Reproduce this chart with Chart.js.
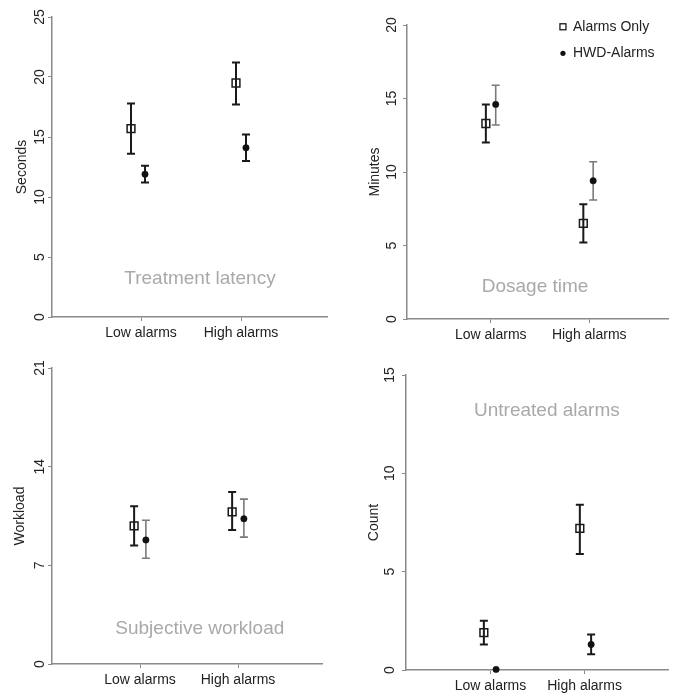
<!DOCTYPE html>
<html>
<head>
<meta charset="utf-8">
<title>Alarm study results</title>
<script src="https://cdn.jsdelivr.net/npm/chart.js@4.4.0/dist/chart.umd.min.js"></script>
<style>
    body { margin: 0; background: #fff; }
    #wrap { position: relative; width: 675px; height: 696px; overflow: hidden; }
    #wrap canvas { position: absolute; }
</style>
</head>
<body>
<div id="wrap">
    <canvas id="latency" width="337" height="345" style="left:0;top:0"></canvas>
    <canvas id="dosage" width="338" height="345" style="left:337px;top:0"></canvas>
    <canvas id="workload" width="337" height="351" style="left:0;top:345px"></canvas>
    <canvas id="untreated" width="338" height="351" style="left:337px;top:345px"></canvas>
</div>
<script>
// Categories / series
const categories = ['Low alarms', 'High alarms'];
const xTicks = [1, 2];
const seriesNames = ['Alarms Only', 'HWD-Alarms'];

// Treatment latency (seconds)
const latencyTicks = [0, 5, 10, 15, 20, 25];
const latencyAoX = [0.90, 1.95];
const latencyAo = [15.7, 19.5];
const latencyAoLo = [13.6, 17.7];
const latencyAoHi = [17.8, 21.2];
const latencyHwdX = [1.04, 2.05];
const latencyHwd = [11.9, 14.1];
const latencyHwdLo = [11.2, 13.0];
const latencyHwdHi = [12.6, 15.2];

// Dosage time (minutes)
const dosageTicks = [0, 5, 10, 15, 20];
const dosageAoX = [0.95, 1.94];
const dosageAo = [13.3, 6.5];
const dosageAoLo = [12.0, 5.2];
const dosageAoHi = [14.6, 7.8];
const dosageHwdX = [1.05, 2.04];
const dosageHwd = [14.6, 9.4];
const dosageHwdLo = [13.2, 8.1];
const dosageHwdHi = [15.9, 10.7];

// Subjective workload
const workloadTicks = [0, 7, 14, 21];
const workloadAoX = [0.94, 1.94];
const workloadAo = [9.8, 10.8];
const workloadAoLo = [8.4, 9.5];
const workloadAoHi = [11.2, 12.2];
const workloadHwdX = [1.06, 2.06];
const workloadHwd = [8.8, 10.3];
const workloadHwdLo = [7.5, 9.0];
const workloadHwdHi = [10.2, 11.7];

// Untreated alarms (count)
const untreatedTicks = [0, 5, 10, 15];
const untreatedAoX = [0.93, 1.95];
const untreatedAo = [1.9, 7.2];
const untreatedAoLo = [1.3, 5.9];
const untreatedAoHi = [2.5, 8.4];
const untreatedHwdX = [1.06, 2.07];
const untreatedHwd = [0.03, 1.3];
const untreatedHwdLo = [0.03, 0.8];
const untreatedHwdHi = [0.03, 1.8];

const FONT = '"Liberation Sans", Arial, Helvetica, sans-serif';
const AXIS_COLOR = '#8a8a8a';
const TEXT_COLOR = '#222';
const DARK = '#1a1a1a';
const GREY_BAR = '#7a7a7a';

// Draw vertical error bars under the points
const errorBars = {
    id: 'errorBars',
    beforeDatasetsDraw(chart) {
        const ctx = chart.ctx;
        const yScale = chart.scales.y;
        chart.data.datasets.forEach((ds, i) => {
            const meta = chart.getDatasetMeta(i);
            ctx.save();
            ctx.strokeStyle = ds.errColor;
            ctx.lineWidth = ds.errWidth;
            meta.data.forEach((pt, j) => {
                const lo = yScale.getPixelForValue(ds.errLow[j]);
                const hi = yScale.getPixelForValue(ds.errHigh[j]);
                if (Math.abs(lo - hi) < 1) return;
                ctx.beginPath();
                ctx.moveTo(pt.x, lo);
                ctx.lineTo(pt.x, hi);
                ctx.moveTo(pt.x - 4, lo);
                ctx.lineTo(pt.x + 4, lo);
                ctx.moveTo(pt.x - 4, hi);
                ctx.lineTo(pt.x + 4, hi);
                ctx.stroke();
            });
            ctx.restore();
        });
    }
};

// Grey panel caption + optional legend
const panelLabel = {
    id: 'panelLabel',
    afterDraw(chart, args, opts) {
        const { ctx, scales } = chart;
        ctx.save();
        ctx.font = '19px ' + FONT;
        ctx.fillStyle = '#a9a9a9';
        ctx.textAlign = 'center';
        ctx.textBaseline = 'alphabetic';
        ctx.fillText(opts.text, scales.x.getPixelForValue(opts.at[0]), scales.y.getPixelForValue(opts.at[1]));

        if (opts.legend) {
            const mx = scales.x.getPixelForValue(opts.legend.x);
            ctx.font = '14px ' + FONT;
            ctx.fillStyle = TEXT_COLOR;
            ctx.textAlign = 'left';
            ctx.textBaseline = 'middle';
            opts.legend.rows.forEach((yv, i) => {
                const my = scales.y.getPixelForValue(yv);
                if (i === 0) {
                    ctx.strokeStyle = DARK;
                    ctx.lineWidth = 1.3;
                    ctx.strokeRect(mx - 3, my - 3, 6, 6);
                } else {
                    ctx.beginPath();
                    ctx.arc(mx, my, 2.6, 0, Math.PI * 2);
                    ctx.fillStyle = '#111';
                    ctx.fill();
                }
                ctx.fillStyle = TEXT_COLOR;
                ctx.fillText(seriesNames[i], mx + 10, my);
            });
        }
        ctx.restore();
    }
};

function makeChart(id, p) {
    const font = { family: FONT, size: 14 };
    new Chart(document.getElementById(id), {
        type: 'scatter',
        data: {
            datasets: [
                {
                    label: seriesNames[0],
                    data: p.aoX.map((x, i) => ({ x: x, y: p.ao[i] })),
                    errLow: p.aoLo,
                    errHigh: p.aoHi,
                    errColor: DARK,
                    errWidth: 2,
                    pointStyle: 'rect',
                    pointRadius: 5.5,
                    pointBorderWidth: 1.5,
                    pointBorderColor: DARK,
                    pointBackgroundColor: 'rgba(255,255,255,0)',
                    clip: false
                },
                {
                    label: seriesNames[1],
                    data: p.hwdX.map((x, i) => ({ x: x, y: p.hwd[i] })),
                    errLow: p.hwdLo,
                    errHigh: p.hwdHi,
                    errColor: p.hwdBar,
                    errWidth: p.hwdBar === DARK ? 2 : 1.6,
                    pointStyle: 'circle',
                    pointRadius: 3.2,
                    pointBorderWidth: 0.5,
                    pointBorderColor: '#111',
                    pointBackgroundColor: '#111',
                    clip: false
                }
            ]
        },
        options: {
            responsive: false,
            animation: false,
            events: [],
            layout: { padding: { left: 0, top: p.area.t, right: p.w - p.area.r, bottom: 0 } },
            plugins: {
                legend: { display: false },
                tooltip: { enabled: false },
                panelLabel: { text: p.label, at: p.labelAt, legend: p.legend }
            },
            scales: {
                x: {
                    type: 'linear',
                    min: p.xMin,
                    max: p.xMax,
                    afterBuildTicks: s => { s.ticks = xTicks.map(v => ({ value: v })); },
                    afterFit: s => { s.height = p.h - p.area.b; },
                    ticks: {
                        callback: (v, i) => categories[i],
                        font: font,
                        color: TEXT_COLOR,
                        padding: 4,
                        maxRotation: 0,
                        autoSkip: false
                    },
                    grid: { drawOnChartArea: false, tickLength: 4, color: AXIS_COLOR, lineWidth: 1 },
                    border: { color: AXIS_COLOR, width: 1.5 }
                },
                y: {
                    type: 'linear',
                    min: 0,
                    max: p.yTicks[p.yTicks.length - 1],
                    afterBuildTicks: s => { s.ticks = p.yTicks.map(v => ({ value: v })); },
                    afterFit: s => { s.width = p.area.l; },
                    ticks: {
                        minRotation: 90,
                        maxRotation: 90,
                        crossAlign: 'center',
                        padding: p.tickPad,
                        font: font,
                        color: TEXT_COLOR,
                        autoSkip: false
                    },
                    grid: { drawOnChartArea: false, tickLength: 4, color: AXIS_COLOR, lineWidth: 1 },
                    border: { color: AXIS_COLOR, width: 1.5 },
                    title: {
                        display: true,
                        text: p.yTitle,
                        font: font,
                        color: TEXT_COLOR,
                        padding: { top: p.titlePad, bottom: 0 }
                    }
                }
            }
        },
        plugins: [errorBars, panelLabel]
    });
}

makeChart('latency', {
    w: 337, h: 345, area: { l: 52, r: 327, t: 17, b: 317 },
    xMin: 0.11, xMax: 2.86, yTicks: latencyTicks, yTitle: 'Seconds',
    tickPad: 0, titlePad: 13.6,
    aoX: latencyAoX, ao: latencyAo, aoLo: latencyAoLo, aoHi: latencyAoHi,
    hwdX: latencyHwdX, hwd: latencyHwd, hwdLo: latencyHwdLo, hwdHi: latencyHwdHi,
    hwdBar: DARK,
    label: 'Treatment latency', labelAt: [1.59, 2.78]
});

makeChart('dosage', {
    w: 338, h: 345, area: { l: 70, r: 338, t: 25, b: 319 },
    xMin: 0.149, xMax: 2.80, yTicks: dosageTicks, yTitle: 'Minutes',
    tickPad: 3.5, titlePad: 29.9,
    aoX: dosageAoX, ao: dosageAo, aoLo: dosageAoLo, aoHi: dosageAoHi,
    hwdX: dosageHwdX, hwd: dosageHwd, hwdLo: dosageHwdLo, hwdHi: dosageHwdHi,
    hwdBar: GREY_BAR,
    label: 'Dosage time', labelAt: [1.45, 1.84],
    legend: { x: 1.733, rows: [19.88, 18.07] }
});

makeChart('workload', {
    w: 337, h: 351, area: { l: 52, r: 322, t: 23, b: 319 },
    xMin: 0.102, xMax: 2.857, yTicks: workloadTicks, yTitle: 'Workload',
    tickPad: 0, titlePad: 12.1,
    aoX: workloadAoX, ao: workloadAo, aoLo: workloadAoLo, aoHi: workloadAoHi,
    hwdX: workloadHwdX, hwd: workloadHwd, hwdLo: workloadHwdLo, hwdHi: workloadHwdHi,
    hwdBar: GREY_BAR,
    label: 'Subjective workload', labelAt: [1.61, 2.13]
});

makeChart('untreated', {
    w: 338, h: 351, area: { l: 69, r: 338, t: 30, b: 325 },
    xMin: 0.1025, xMax: 2.887, yTicks: untreatedTicks, yTitle: 'Count',
    tickPad: 4, titlePad: 28.4,
    aoX: untreatedAoX, ao: untreatedAo, aoLo: untreatedAoLo, aoHi: untreatedAoHi,
    hwdX: untreatedHwdX, hwd: untreatedHwd, hwdLo: untreatedHwdLo, hwdHi: untreatedHwdHi,
    hwdBar: DARK,
    label: 'Untreated alarms', labelAt: [1.60, 12.91]
});
</script>
</body>
</html>
